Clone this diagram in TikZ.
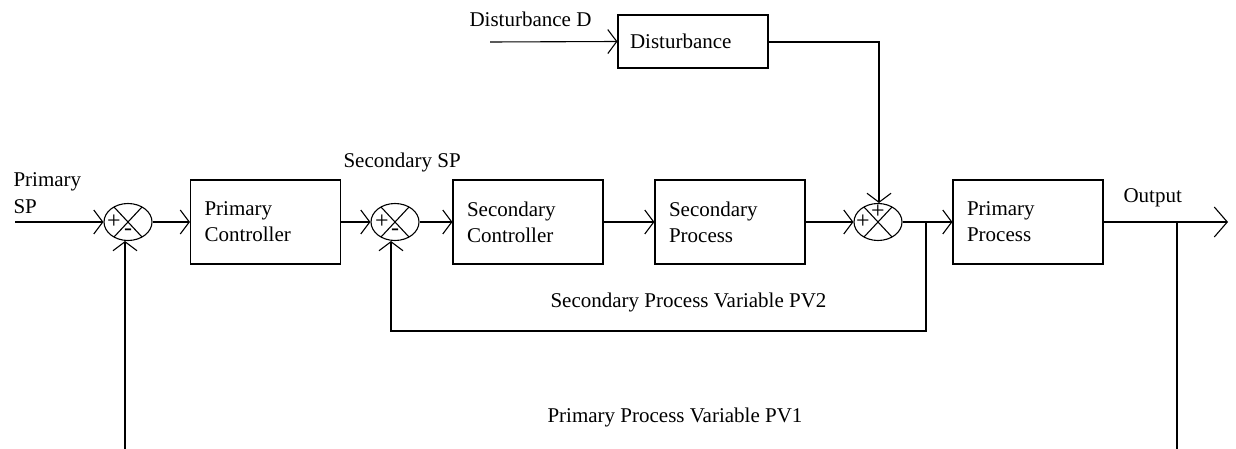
\documentclass[tikz,border=0pt]{standalone}
\usepackage{fontspec}
\setmainfont{Liberation Serif}
\usetikzlibrary{arrows.meta,shapes.geometric}
\newcommand{\bigfont}{\rmfamily\fontsize{21}{26}\selectfont}
\begin{document}
\begin{tikzpicture}[x=1pt,y=-1pt,
  line width=1.1pt,
  font=\bigfont,
  blk/.style={draw,rectangle,minimum width=150pt,minimum height=84pt,
    text width=122pt,inner xsep=14pt,align=left,font=\bigfont},
  sumj/.style={draw,ellipse,minimum width=48pt,minimum height=37pt,inner sep=0pt},
  arr/.style={-{Straight Barb[length=9pt,width=24pt]}},
  bigarr/.style={-{Straight Barb[length=13pt,width=30pt]}},
  lbl/.style={inner sep=0pt,anchor=base west,font=\bigfont},
  sgn/.style={inner sep=0pt,font=\rmfamily\fontsize{24}{24}\selectfont}]
\useasboundingbox (0,0) rectangle (1236,449);

% blocks
\node[blk] (pc) at (265.5,222) {Primary\\Controller};
\node[blk] (sc) at (528,222) {Secondary\\Controller};
\node[blk] (sp) at (730,222) {Secondary\\Process};
\node[blk] (pp) at (1028,222) {Primary\\Process};
\node[draw,rectangle,minimum width=150pt,minimum height=53pt,text width=126pt,
  inner xsep=12pt,align=left,font=\bigfont] (dist) at (693,41.5) {Disturbance};

% summing junctions
\node[sumj] (s1) at (128,222) {};
\node[sumj] (s2) at (395,222) {};
\node[sumj] (s3) at (878,222) {};
\foreach \s in {s1,s2,s3}{
  \draw ([shift={(-14,-15)}]\s.center) -- ([shift={(14,15)}]\s.center);
  \draw ([shift={(14,-15)}]\s.center) -- ([shift={(-14,15)}]\s.center);
}
\node[sgn] (p1) at ([shift={(-14,0)}]s1.center) {+};
\node[sgn] (m1) at ([shift={(0,10)}]s1.center) {-};
\node[sgn] (p2) at ([shift={(-13,0)}]s2.center) {+};
\node[sgn] (m2) at ([shift={(0,10)}]s2.center) {-};
\node[sgn] (p3) at ([shift={(-15,0)}]s3.center) {+};
\node[sgn] (p4) at ([shift={(0,-10)}]s3.center) {+};

% labels
\node[lbl] (lp1) at (13,187) {Primary};
\node[lbl] (lp2) at (13,213) {SP};
\node[lbl] (lssp) at (343,168) {Secondary SP};
\node[inner sep=0pt,anchor=base east,font=\bigfont] (ldd) at (592,27) {Disturbance D};
\node[lbl] (lout) at (1123,203) {Output};
\node[lbl] (lpv2) at (550,307) {Secondary Process Variable PV2};
\node[lbl] (lpv1) at (547,422) {Primary Process Variable PV1};

% coordinates
\coordinate (in) at (15,222);
\coordinate (din) at (490,42);
\coordinate (out) at (1228,222);
\coordinate (t2) at (926,222);
\coordinate (c2a) at (926,331);
\coordinate (c2b) at (391,331);
\coordinate (t1) at (1177,222);
\coordinate (b1) at (1177,449);
\coordinate (b0) at (125,449);
\coordinate (dc) at (879,42);

% forward path
\draw[arr] (in) -- (s1.west);
\draw[arr] (s1.east) -- (pc.west);
\draw[arr] (pc.east) -- (s2.west);
\draw[arr] (s2.east) -- (sc.west);
\draw[arr] (sc.east) -- (sp.west);
\draw[arr] (sp.east) -- (s3.west);
\draw[arr] (s3.east) -- (pp.west);
\draw[bigarr] (pp.east) -- (out);

% disturbance
\draw[arr] (din) -- (dist.west);
\draw[arr] (dist.east |- dc) -- (dc) -- (dc |- s3.north);

% secondary feedback
\draw[arr] (t2) -- (c2a) -- (c2b) -- (c2b |- s2.south);

% primary feedback
\draw (t1) -- (b1);
\draw[arr] (b0) -- (b0 |- s1.south);
\end{tikzpicture}
\end{document}
